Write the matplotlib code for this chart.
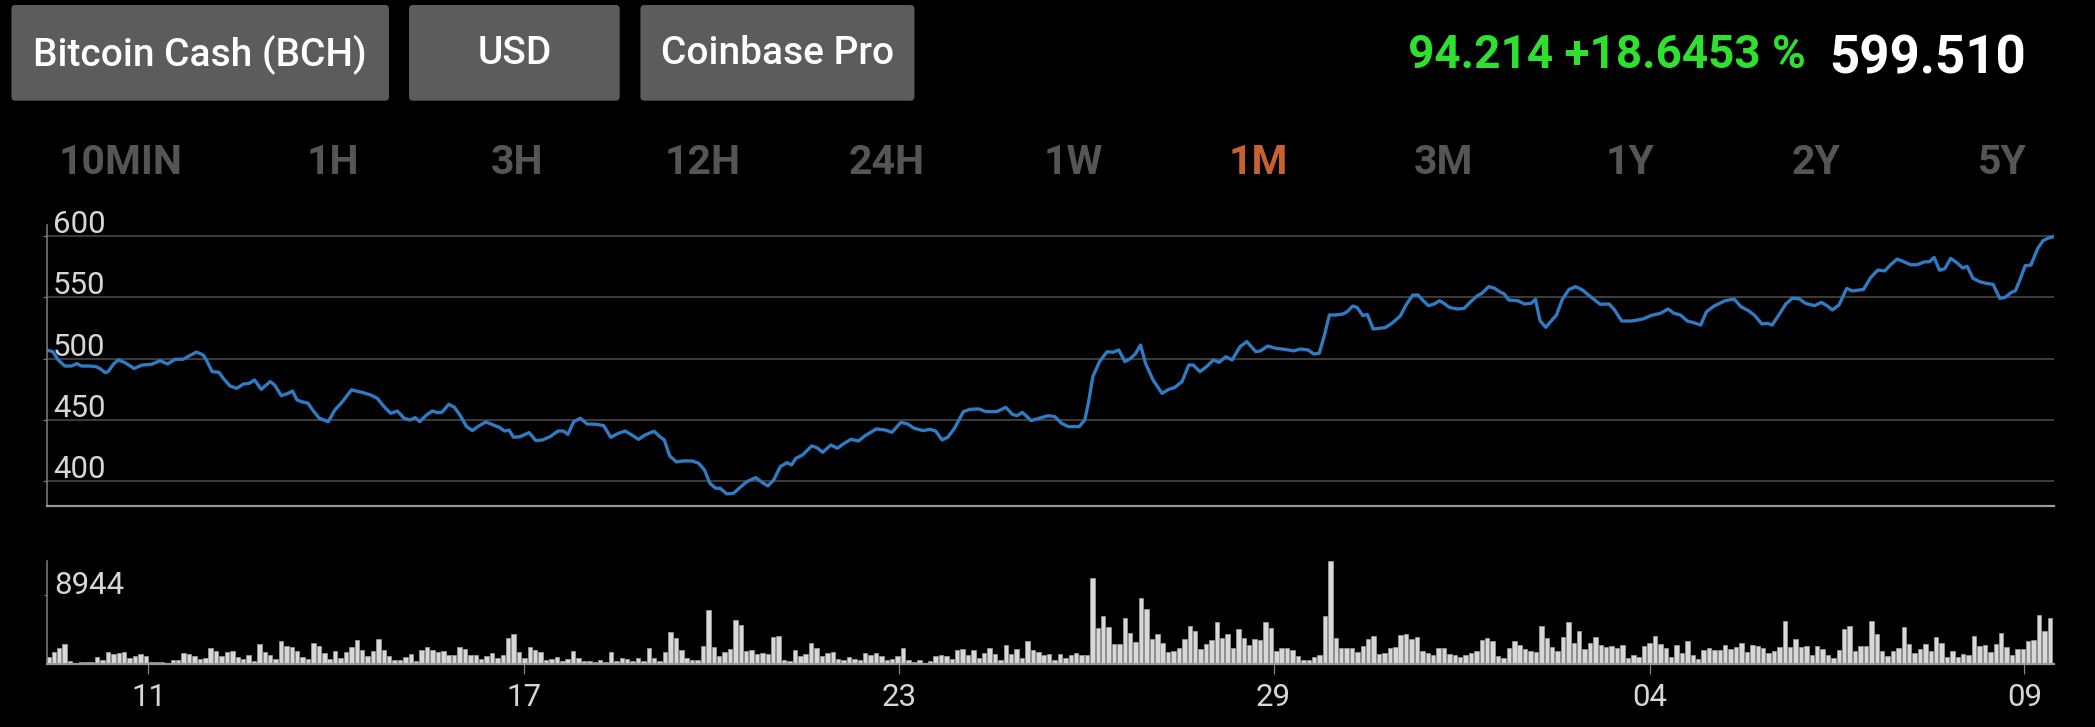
import matplotlib
matplotlib.use("Agg")
import matplotlib.pyplot as plt
from matplotlib.patches import FancyBboxPatch
import matplotlib.transforms as mtransforms
import numpy as np

plt.rcParams['font.family'] = ['Roboto', 'DejaVu Sans']

# ---------------- data ----------------
buttons = ["Bitcoin Cash (BCH)", "USD", "Coinbase Pro"]
periods = ["10MIN", "1H", "3H", "12H", "24H", "1W", "1M", "3M", "1Y", "2Y", "5Y"]
active_period = "1M"
change_text = "94.214 +18.6453 %"
last_price_text = "599.510"

x_tick_labels = ["11", "17", "23", "29", "04", "09"]
x_tick_pos = [18.5, 87.9, 157.2, 226.5, 296.0, 365.3]   # candle index
price_ticks = [400, 450, 500, 550, 600]
volume_tick = 8944

# price line: candle index, price (USD)
price_t = [
    -0.26, 0.81, 1.80, 3.04, 4.28, 5.27, 6.09, 7.58, 8.81, 9.64, 10.47, 11.04, 12.12, 12.94,
    14.18, 15.83, 17.31, 19.13, 20.61, 22.02, 23.42, 24.91, 25.73, 27.38, 28.62, 29.20, 30.27,
    31.51, 32.33, 33.57, 34.81, 36.05, 37.12, 38.11, 39.35, 41.00, 41.82, 43.06, 44.30, 45.12,
    45.95, 47.19, 48.01, 48.84, 50.08, 51.73, 52.96, 54.20, 56.02, 57.91, 59.57, 60.80, 62.04,
    63.28, 64.52, 65.75, 66.83, 67.82, 68.64, 69.88, 70.95, 71.94, 72.77, 74.01, 75.08, 76.07,
    77.31, 78.38, 79.37, 80.86, 82.26, 83.33, 84.32, 85.15, 85.97, 87.21, 88.86, 90.10, 91.34,
    92.74, 94.22, 95.21, 96.04, 97.11, 98.35, 99.59, 101.24, 102.64, 103.96, 105.37, 106.60,
    107.84, 109.08, 110.32, 111.97, 113.04, 113.86, 114.85, 116.09, 117.33, 118.98, 120.22,
    121.29, 122.28, 123.35, 124.17, 125.41, 126.65, 127.89, 129.12, 130.78, 132.01, 133.00,
    134.08, 135.31, 136.55, 137.38, 138.20, 139.44, 141.09, 142.08, 143.15, 144.64, 145.88,
    146.87, 148.35, 149.75, 150.99, 152.23, 153.06, 154.71, 155.94, 157.60, 158.83, 160.07,
    161.72, 162.96, 164.03, 165.19, 166.26, 167.50, 169.15, 170.39, 172.04, 173.27, 175.34,
    176.99, 178.23, 179.05, 180.04, 181.69, 183.18, 184.83, 186.06, 187.30, 188.54, 190.60,
    191.59, 192.25, 193.08, 194.32, 195.72, 196.79, 197.87, 199.02, 200.09, 200.92, 201.91,
    202.82, 204.22, 205.87, 207.11, 208.18, 209.58, 210.82, 211.65, 212.88, 214.12, 215.36,
    216.43, 217.67, 218.82, 220.31, 221.55, 223.20, 224.02, 225.43, 226.91, 228.56, 230.21,
    231.45, 232.85, 233.93, 234.92, 235.83, 236.81, 238.05, 239.29, 240.12, 241.11, 241.93,
    243.00, 243.83, 244.90, 245.89, 247.13, 248.37, 249.92, 250.99, 252.23, 253.22, 254.05,
    255.12, 256.19, 257.18, 258.01, 259.00, 260.48, 261.72, 262.96, 264.20, 265.02, 266.26,
    267.25, 268.32, 269.15, 269.97, 271.62, 272.86, 274.10, 274.92, 275.75, 276.82, 277.81,
    278.80, 279.88, 281.11, 282.35, 283.59, 285.24, 286.89, 288.54, 289.53, 290.85, 292.67,
    294.73, 296.38, 298.03, 299.43, 300.51, 301.74, 302.98, 304.22, 305.46, 306.53, 307.93,
    310.00, 311.65, 312.88, 314.29, 315.36, 316.76, 317.84, 318.66, 319.90, 321.14, 322.37,
    323.61, 324.85, 326.50, 327.74, 328.81, 329.80, 331.04, 332.44, 333.51, 334.75, 335.58,
    336.82, 338.22, 339.46, 340.53, 341.77, 343.01, 344.24, 345.48, 346.72, 347.79, 348.62,
    349.61, 350.60, 351.67, 352.91, 353.90, 354.72, 355.80, 357.03, 358.27, 359.51, 360.75,
    361.74, 362.81, 363.64, 364.46, 365.45, 366.52, 367.76, 368.75, 369.58, 370.65,
]
price = [
    507.0, 505.7, 499.0, 494.0, 494.0, 496.0, 494.0, 494.0, 493.5, 491.6, 488.6, 489.4, 496.0, 499.0,
    496.7, 492.0, 494.8, 495.4, 498.4, 495.7, 499.5, 499.5, 501.6, 505.4, 503.0, 498.9, 489.4,
    488.9, 484.0, 477.7, 475.8, 479.3, 479.9, 482.6, 475.0, 481.3, 478.5, 469.8, 471.7, 473.6,
    466.3, 464.4, 463.6, 458.2, 451.4, 448.6, 458.2, 464.1, 474.5, 472.6, 470.4, 467.7, 460.9,
    455.4, 457.3, 451.4, 450.0, 451.9, 448.6, 454.0, 457.3, 456.0, 456.3, 462.8, 460.3, 454.0,
    444.6, 441.3, 444.6, 448.4, 445.9, 444.0, 441.0, 441.8, 435.9, 436.4, 439.7, 433.2, 433.7,
    436.4, 441.0, 441.0, 438.3, 448.6, 451.4, 446.7, 446.5, 445.4, 435.9, 439.1, 441.0,
    437.8, 434.2, 437.8, 440.8, 436.4, 433.7, 420.7, 415.8, 416.6, 416.6, 414.7,
    409.2, 398.4, 394.3, 394.3, 389.7, 390.2, 395.1, 399.7, 403.0, 398.9, 396.2,
    401.1, 412.0, 415.2, 413.3, 418.8, 421.5, 428.8, 427.4, 423.6, 429.6, 426.9,
    430.2, 434.2, 432.9, 437.2, 440.5, 442.7, 441.8, 439.9, 448.1, 446.7, 443.2,
    441.3, 442.4, 441.0, 433.7, 435.9, 443.2, 456.8, 458.7, 459.0, 456.8, 456.8,
    460.3, 454.6, 453.5, 456.2, 449.5, 451.4, 453.5, 452.7, 447.3, 444.6, 444.6,
    450.0, 463.6, 485.3, 497.6, 505.7, 505.2, 507.1, 497.6, 500.3, 503.8, 511.1,
    496.2, 482.6, 471.7, 475.0, 476.4, 481.3, 494.8, 494.8, 489.4, 493.5, 498.9,
    497.0, 501.6, 498.9, 509.8, 513.9, 505.7, 506.2, 510.3, 508.4, 507.6, 506.3,
    507.9, 507.1, 503.8, 504.3, 517.9, 535.6, 535.6, 536.4, 538.3, 542.9, 541.8,
    535.1, 536.1, 524.2, 524.7, 525.3, 528.8, 534.8, 543.8, 551.9, 551.9, 547.8,
    543.2, 544.6, 547.3, 545.1, 541.8, 540.5, 541.0, 546.5, 551.4, 553.3, 558.7,
    557.6, 554.6, 552.7, 547.8, 547.3, 544.6, 545.1, 548.4, 531.0, 525.5, 530.7,
    535.6, 548.4, 556.5, 558.7, 556.0, 550.0, 544.3, 544.6, 539.7, 530.7, 530.7,
    532.3, 535.3, 537.0, 540.5, 537.0, 535.6, 530.7, 529.3, 527.4, 538.3, 542.9,
    547.3, 548.6, 542.4, 539.1, 535.6, 528.3, 528.8, 527.4, 535.6, 544.3, 549.2,
    549.0, 545.1, 543.2, 545.9, 543.2, 539.7, 543.8, 557.3, 555.2, 556.0, 556.5,
    565.8, 572.3, 571.5, 576.4, 581.2, 579.1, 576.6, 576.6, 578.8, 579.1, 582.6,
    572.1, 573.4, 581.8, 577.9, 573.9, 575.3, 565.5, 562.8, 561.4, 560.6, 549.2,
    550.0, 553.8, 555.4, 564.1, 575.8, 576.4, 589.9, 596.2, 598.1, 599.5,
]

# volume per candle
volume = [
    980, 1620, 2040, 2560, 430, 210, 340, 340, 340, 980,
    550, 1530, 1360, 1450, 1620, 770, 1070, 1280, 1070, 260,
    340, 340, 130, 510, 510, 1410, 1280, 1110, 680, 770,
    2130, 1700, 1110, 1530, 1750, 980, 640, 1190, 430, 2560,
    1530, 1190, 640, 2980, 2390, 2220, 1700, 940, 640, 2680,
    2390, 1410, 640, 1700, 850, 1620, 2220, 3110, 1830, 1070,
    1700, 3240, 1830, 1070, 510, 510, 940, 1320, 430, 1830,
    2220, 1830, 1620, 1700, 1190, 1190, 2220, 1960, 1190, 1190,
    680, 1070, 1450, 770, 1190, 3410, 3880, 1530, 850, 2220,
    1830, 1530, 550,
    640, 940, 430, 640, 1700, 770, 430, 430, 260, 510,
    260, 1530, 430, 770, 640, 430, 770, 430, 2040, 770,
    430, 1530, 4090, 3320, 1790, 770, 510, 510, 2340, 7030,
    2220, 1070, 1530, 1920, 5750, 5110, 1700, 1790, 1280, 1410,
    1280, 3450, 3580, 510, 380, 1790, 1020, 1280, 2680, 2040,
    1020, 1410, 1530, 640, 510, 940, 640, 510, 1410, 1190,
    1410, 1070, 510, 640, 1020, 2040, 510, 260, 510, 130,
    380, 1020, 1190, 1020, 640, 1790, 1920, 1190, 1790, 770,
    1450, 2040, 1280, 510, 2470, 1280, 1920, 770, 2940, 1790,
    1530, 1190, 1280, 550,
    1280, 850, 1190, 1410, 1190, 1190, 11120, 4640, 6180, 4770,
    2600, 2600, 6010, 3960, 2850, 8560, 7160, 3240, 3830, 2680,
    1530, 1660, 2040, 3190, 4900, 4260, 1920, 2560, 3070, 5490,
    3320, 3830, 2040, 4470, 3320, 2430, 3190, 3070, 5490, 4600,
    1660, 2040, 2040, 1790, 1020, 510, 510, 940, 1190, 6180,
    13330, 3320, 2040, 2040, 2040, 1530, 2300, 3190, 3580, 1280,
    1410, 2040, 2220, 3710, 3830, 3190, 3450, 1660, 1410, 1190,
    2040, 2040, 1280, 1190, 940, 1190, 1410, 1660, 3070, 3320,
    2940, 1020, 770, 2040, 2940, 2430, 1920, 1660, 1530, 4860,
    3320, 2170, 1660,
    3490, 5370, 2680, 4340, 1920, 2680, 3450, 2430, 2170, 2300,
    2040, 2430, 770, 1150, 890, 2300, 2680, 3580, 2560, 2040,
    890, 2430, 1410, 2940, 1150, 640, 1790, 2040, 1790, 1790,
    2430, 1920, 2170, 2680, 1530, 2430, 2300, 2040, 1410, 1660,
    2170, 5620, 2170, 3190, 2170, 2300, 1150, 2300, 1920, 1150,
    770, 1790, 4470, 4860, 1660, 2300, 2300, 5620, 3830, 1660,
    1020, 1660, 2040, 4730, 2560, 1410, 1920, 2560, 1660, 3450,
    2680, 890, 1660, 890, 1280, 1150, 3580, 2300, 2430, 1530,
    2560, 3960, 2170, 1150, 1920, 1920, 2940, 3070, 6390, 4340,
    6010,
]

# ---------------- figure ----------------
W, H = 2095, 727
DPI = 100
fig = plt.figure(figsize=(W / DPI, H / DPI), dpi=DPI, facecolor="black")

def pt(px):
    return px * 72.0 / DPI

def frac_rect(x0, y_top, x1, y_bot):
    return [x0 / W, 1 - y_bot / H, (x1 - x0) / W, (y_bot - y_top) / H]

# overlay for header
ov = fig.add_axes([0, 0, 1, 1], zorder=0)
ov.set_xlim(0, W)
ov.set_ylim(H, 0)
ov.axis("off")
ov.set_facecolor("black")

btn_boxes = [(11.4, 389.0), (409.0, 619.7), (640.4, 914.4)]
for label, (bx0, bx1) in zip(buttons, btn_boxes):
    ov.add_patch(FancyBboxPatch((bx0 + 4, 5 + 4), bx1 - bx0 - 8, 95.7 - 8,
                                boxstyle="round,pad=4", facecolor="#5c5c5c",
                                edgecolor="none"))
    ov.text((bx0 + bx1) / 2, 54, label, color="white", fontsize=28,
            fontweight="medium", ha="center", va="center")

period_x = [121, 333, 517, 703, 887, 1073, 1258, 1443.5, 1630, 1816, 2002]
for p, px in zip(periods, period_x):
    col = "#c8612e" if p == active_period else "#555555"
    ov.text(px, 174, p, color=col, fontsize=29.5, fontweight="bold",
            ha="center", va="baseline")

ov.text(1806, 68.3, change_text, color="#2fe02f", fontsize=33,
        fontweight="bold", ha="right", va="baseline")
ov.text(2026, 73.3, last_price_text, color="white", fontsize=38,
        fontweight="bold", ha="right", va="baseline")

# ---------------- price chart ----------------
grid_col = "#4a4a4a"
label_col = "#d6d6d6"
xlim = (-0.3, 370.7)

ax1 = fig.add_axes(frac_rect(46.8, 225, 2053.6, 506.3), zorder=2)
ax1.set_facecolor("none")
ax1.plot(price_t, price, color="#2f7bc4", lw=pt(3.3), solid_joinstyle="round")
ax1.set_xlim(*xlim)
ax1.set_ylim(379.6, 609)
ax1.set_yticks(price_ticks)
ax1.set_yticklabels([])
ax1.set_xticks([])
ax1.grid(axis="y", color=grid_col, lw=pt(1.6))
ax1.set_axisbelow(True)
for s in ["top", "right"]:
    ax1.spines[s].set_visible(False)
ax1.spines["left"].set_color("#7a7a7a")
ax1.spines["left"].set_linewidth(pt(1.6))
ax1.spines["bottom"].set_color("#9a9a9a")
ax1.spines["bottom"].set_linewidth(pt(2.2))
ax1.tick_params(axis="y", direction="out", length=pt(4), width=pt(1.2), color="#7a7a7a")
off = mtransforms.offset_copy(ax1.get_yaxis_transform(), fig=fig, x=pt(6), y=pt(3), units="points")
for v in price_ticks:
    ax1.text(0, v, str(v), transform=off, color=label_col, fontsize=22.5,
             ha="left", va="baseline")

# ---------------- volume chart ----------------
ax2 = fig.add_axes(frac_rect(46.8, 560.5, 2053.6, 664.3), zorder=2)
ax2.set_facecolor("none")
ax2.bar(np.arange(len(volume)), volume, width=0.82, color="#d8d8d8",
        edgecolor="#a0a0a0", linewidth=0.5)
ax2.set_xlim(*xlim)
ax2.set_ylim(0, max(volume))
ax2.set_yticks([volume_tick])
ax2.set_yticklabels([])
ax2.tick_params(axis="y", direction="out", length=pt(3), width=pt(1.2), color="#7a7a7a")
ax2.set_xticks(x_tick_pos)
ax2.set_xticklabels(x_tick_labels, color=label_col, fontsize=22.5)
ax2.tick_params(axis="x", direction="out", length=pt(10), width=pt(1.2),
                color="#8a8a8a", pad=pt(9))
for s in ["top", "right"]:
    ax2.spines[s].set_visible(False)
ax2.spines["left"].set_color("#7a7a7a")
ax2.spines["left"].set_linewidth(pt(1.6))
ax2.spines["bottom"].set_color("#9a9a9a")
ax2.spines["bottom"].set_linewidth(pt(2.2))
off2 = mtransforms.offset_copy(ax2.get_yaxis_transform(), fig=fig, x=pt(7), y=pt(1), units="points")
ax2.text(0, volume_tick, str(volume_tick), transform=off2, color=label_col,
         fontsize=22.5, ha="left", va="baseline")

fig.savefig("out.png", dpi=DPI, facecolor="black")
